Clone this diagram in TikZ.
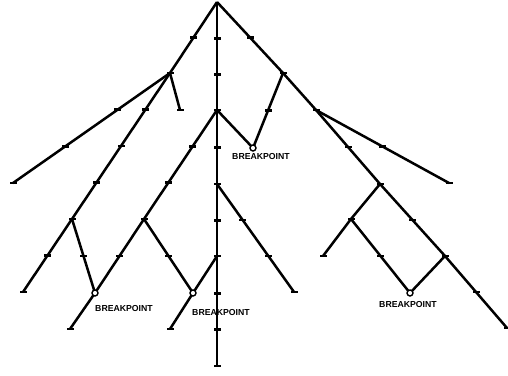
\documentclass[tikz,border=0pt]{standalone}
\usepackage{fontspec}
\setmainfont{Liberation Sans}
\begin{document}
\begin{tikzpicture}[x=1pt,y=-1pt,
  br/.style={line width=2.5pt,line join=round},
  tk/.style={rectangle,fill=black,minimum width=7pt,minimum height=2.8pt,inner sep=0pt,outer sep=0pt},
  bp/.style={circle,draw=black,fill=white,line width=1.4pt,minimum size=6pt,inner sep=0pt},
  lbl/.style={font=\fontsize{8.7}{9}\selectfont\bfseries,inner sep=0pt}]
\useasboundingbox (0,0) rectangle (508,375);
% coordinates
\coordinate (R) at (217,2);
\coordinate (A) at (170,73);
\coordinate (L1) at (13,183);
\coordinate (L2) at (180,110);
\coordinate (B) at (72,219);
\coordinate (L3) at (23,292);
\coordinate (D) at (217,110);
\coordinate (C) at (144,219);
\coordinate (P1) at (95,293);
\coordinate (L4) at (70,329);
\coordinate (T4) at (217,256);
\coordinate (P2) at (193,293);
\coordinate (L5) at (170,329);
\coordinate (Bot) at (217,366);
\coordinate (E) at (283,73);
\coordinate (P3) at (253,148);
\coordinate (F) at (316,110);
\coordinate (L6) at (449,183);
\coordinate (G) at (380,184);
\coordinate (H) at (351,219);
\coordinate (L7) at (323,256);
\coordinate (I) at (445,256);
\coordinate (L8) at (507,328);
\coordinate (P4) at (410,293);
\coordinate (T3) at (217,184);
\coordinate (L9) at (294,292);
% branches
\draw[br] (R) -- (Bot)
  node[tk,pos=0.1]{} node[tk,pos=0.2]{} node[tk,pos=0.4]{} node[tk,pos=0.6]{}
  node[tk,pos=0.8]{} node[tk,pos=0.9]{};
\draw[br] (R) -- node[tk]{} (A);
\draw[br] (A) -- node[tk,pos=1/3]{} node[tk,pos=2/3]{} (L1);
\draw[br] (A) -- (L2);
\draw[br] (A) -- node[tk,pos=0.25]{} node[tk,pos=0.5]{} node[tk,pos=0.75]{} (B);
\draw[br] (B) -- node[tk]{} (L3);
\draw[br] (B) -- node[tk]{} (P1);
\draw[br] (D) -- node[tk,pos=1/3]{} node[tk,pos=2/3]{} (C);
\draw[br] (C) -- node[tk]{} (P1);
\draw[br] (P1) -- (L4);
\draw[br] (C) -- node[tk]{} (P2);
\draw[br] (T4) -- (P2) -- (L5);
\draw[br] (R) -- node[tk]{} (E);
\draw[br] (E) -- node[tk]{} (P3);
\draw[br] (D) -- (P3);
\draw[br] (E) -- (F);
\draw[br] (F) -- node[tk]{} (L6);
\draw[br] (F) -- node[tk]{} (G);
\draw[br] (G) -- (H) -- (L7);
\draw[br] (G) -- node[tk]{} (I);
\draw[br] (I) -- node[tk]{} (L8);
\draw[br] (H) -- node[tk]{} (P4);
\draw[br] (I) -- (P4);
\draw[br] (T3) -- node[tk,pos=1/3]{} node[tk,pos=2/3]{} (L9);
% marks at nodes and leaves
\foreach \p in {A,B,C,D,E,F,G,H,I,T3,T4,L1,L2,L3,L4,L5,L6,L7,L8,L9,Bot}
  \node[tk] at (\p) {};
% breakpoints
\node[bp] (c1) at (P1) {};
\node[bp] (c2) at (P2) {};
\node[bp] (c3) at (P3) {};
\node[bp] (c4) at (P4) {};
\node[lbl] (b1) at (124,308) {BREAKPOINT};
\node[lbl] (b2) at (221,312) {BREAKPOINT};
\node[lbl] (b3) at (261,157) {BREAKPOINT};
\node[lbl] (b4) at (408,304) {BREAKPOINT};
\end{tikzpicture}
\end{document}
